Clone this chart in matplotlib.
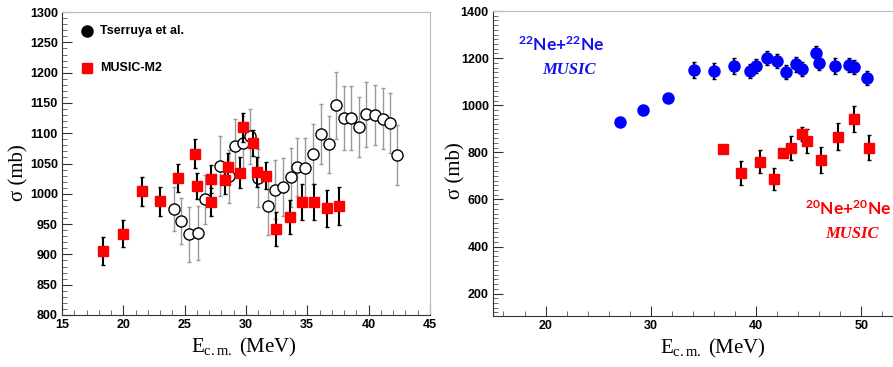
import matplotlib
matplotlib.use("Agg")
import matplotlib.pyplot as plt
from matplotlib.ticker import MultipleLocator
from matplotlib.font_manager import FontProperties

plt.rcParams['mathtext.fontset'] = 'custom'
plt.rcParams['mathtext.rm'] = 'Liberation Serif'
plt.rcParams['mathtext.it'] = 'Liberation Serif:italic'
plt.rcParams['mathtext.bf'] = 'Lato:bold'

# ---- Left panel data ----
m2_x = [18.35, 19.95, 21.5, 23.0, 24.46, 25.88, 26.04, 27.16, 27.16, 28.33, 28.5, 29.5, 29.77,
        30.58, 30.9, 31.67, 32.49, 33.57, 34.6, 35.59, 36.57, 37.57]
m2_y = [905, 934, 1004, 988, 1026, 1066, 1013, 1024, 986, 1023, 1044, 1035, 1110,
        1084, 1036, 1030, 942, 962, 987, 987, 976, 980]
m2_err = [23, 22, 24, 24, 23, 24, 22, 23, 23, 24, 24, 25, 24,
          22, 24, 22, 28, 28, 30, 30, 30, 31]

ts_x = [24.1, 24.7, 25.33, 26.07, 26.7, 27.86, 28.6, 29.14, 29.8, 30.37, 30.99, 31.78, 32.35,
        33.03, 33.7, 34.17, 34.8, 35.45, 36.13, 36.78, 37.33, 37.98, 38.6, 39.23, 39.83,
        40.5, 41.16, 41.73, 42.33]
ts_y = [975, 955, 933, 935, 991, 1046, 1029, 1079, 1084, 1095, 1026, 980, 1007,
        1011, 1027, 1045, 1043, 1066, 1099, 1082, 1146, 1125, 1125, 1110, 1131,
        1130, 1124, 1117, 1064]
ts_err = [37, 38, 45, 45, 40, 49, 44, 45, 45, 45, 48, 48, 49,
          48, 48, 48, 50, 50, 50, 47, 55, 53, 53, 50, 53,
          50, 50, 50, 50]

# ---- Right panel data ----
ne22_x = [27.08, 29.3, 31.59, 34.06, 35.97, 37.94, 39.4, 40.0, 41.05, 41.94, 42.8, 43.81,
          44.32, 45.65, 45.97, 47.49, 48.83, 49.3, 50.5]
ne22_y = [930, 979, 1029, 1149, 1145, 1166, 1145, 1166, 1199, 1187, 1142, 1173,
          1152, 1220, 1178, 1166, 1170, 1163, 1114]
ne22_err = [0, 0, 0, 35, 35, 35, 30, 30, 30, 30, 30, 30,
            30, 30, 30, 35, 30, 30, 30]

ne20_x = [36.86, 38.6, 40.41, 41.68, 42.54, 43.27, 44.38, 44.79, 46.13, 47.78, 49.3, 50.73]
ne20_y = [816, 713, 760, 686, 798, 819, 876, 849, 767, 866, 940, 820]
ne20_err = [0, 50, 48, 48, 0, 50, 30, 50, 55, 58, 55, 52]

fig = plt.figure(figsize=(8.93, 3.67), dpi=100)
ax1 = fig.add_axes([0.0694, 0.1417, 0.412, 0.8253])
ax2 = fig.add_axes([0.552, 0.139, 0.448, 0.831])

tickfp = FontProperties(family='Liberation Sans', weight='bold', size=9)

def style(ax):
    ax.tick_params(which='both', direction='in', top=False, right=False, pad=3)
    ax.tick_params(which='major', length=7, width=0.8, color='#333333')
    ax.tick_params(which='minor', length=3.5, width=0.6, color='#555555')
    for lab in ax.get_xticklabels() + ax.get_yticklabels():
        lab.set_fontproperties(tickfp)
    ax.spines['left'].set_color('#333333')
    ax.spines['bottom'].set_color('#333333')
    ax.spines['top'].set_color('#bbbbbb')
    ax.spines['right'].set_color('#bbbbbb')

# Left
ax1.errorbar(ts_x, ts_y, yerr=ts_err, fmt='o', mfc='white', mec='black', mew=1.0,
             ms=8, ecolor='#999999', elinewidth=1.0, capsize=1.5, zorder=2)
ax1.errorbar(m2_x, m2_y, yerr=m2_err, fmt='s', mfc='#ff0000', mec='#ff0000',
             ms=7.5, ecolor='black', elinewidth=1.5, capsize=1.5, zorder=3)
ax1.set_xlim(15, 45)
ax1.set_ylim(800, 1300)
ax1.xaxis.set_major_locator(MultipleLocator(5))
ax1.xaxis.set_minor_locator(MultipleLocator(1))
ax1.yaxis.set_major_locator(MultipleLocator(50))
ax1.yaxis.set_minor_locator(MultipleLocator(10))
style(ax1)
ax1.plot([17.0], [1268], 'o', color='black', ms=8, clip_on=False)
ax1.text(18.1, 1268, 'Tserruya et al.', fontfamily='Liberation Sans', fontweight='bold',
         fontsize=9, va='center')
ax1.plot([17.0], [1208], 's', color='#ff0000', ms=7.5, clip_on=False)
ax1.text(18.1, 1208, 'MUSIC-M2', fontfamily='Liberation Sans', fontweight='bold',
         fontsize=9, va='center')
ax1.set_xlabel(r'E$_{\mathrm{c.m.}}$ (MeV)', fontfamily='Liberation Serif', fontsize=15)
ax1.set_ylabel('σ (mb)', fontfamily='Liberation Serif', fontsize=15)
ax1.xaxis.set_label_coords(0.495, -0.068)
ax1.yaxis.set_label_coords(-0.09, 0.469)

# Right
ax2.errorbar(ne22_x, ne22_y, yerr=ne22_err, fmt='o', mfc='#0000ff', mec='#0000ff',
             ms=8, ecolor='black', elinewidth=1.5, capsize=1.5, zorder=3)
ax2.errorbar(ne20_x, ne20_y, yerr=ne20_err, fmt='s', mfc='#ff0000', mec='#ff0000',
             ms=7, ecolor='black', elinewidth=1.5, capsize=1.5, zorder=3)
ax2.set_xlim(15, 53)
ax2.set_ylim(105, 1400)
ax2.xaxis.set_major_locator(MultipleLocator(10))
ax2.xaxis.set_minor_locator(MultipleLocator(2))
ax2.yaxis.set_major_locator(MultipleLocator(200))
ax2.yaxis.set_minor_locator(MultipleLocator(20))
style(ax2)
ax2.text(0.17, 0.888, r'$\mathbf{^{22}Ne{+}^{22}Ne}$', transform=ax2.transAxes,
         color='#1010ee', fontsize=12.5, ha='center', va='center')
ax2.text(0.19, 0.806, 'MUSIC', transform=ax2.transAxes, color='#1010ee',
         fontfamily='Liberation Serif', fontstyle='italic', fontweight='bold',
         fontsize=12, ha='center', va='center')
ax2.text(0.8875, 0.348, r'$\mathbf{^{20}Ne{+}^{20}Ne}$', transform=ax2.transAxes,
         color='#ff0000', fontsize=12.5, ha='center', va='center')
ax2.text(0.8975, 0.269, 'MUSIC', transform=ax2.transAxes, color='#ff0000',
         fontfamily='Liberation Serif', fontstyle='italic', fontweight='bold',
         fontsize=12, ha='center', va='center')
ax2.set_xlabel(r'E$_{\mathrm{c.m.}}$ (MeV)', fontfamily='Liberation Serif', fontsize=15)
ax2.set_ylabel('σ (mb)', fontfamily='Liberation Serif', fontsize=15)
ax2.xaxis.set_label_coords(0.55, -0.068)
ax2.yaxis.set_label_coords(-0.0675, 0.475)

fig.savefig('out.png', dpi=100)
